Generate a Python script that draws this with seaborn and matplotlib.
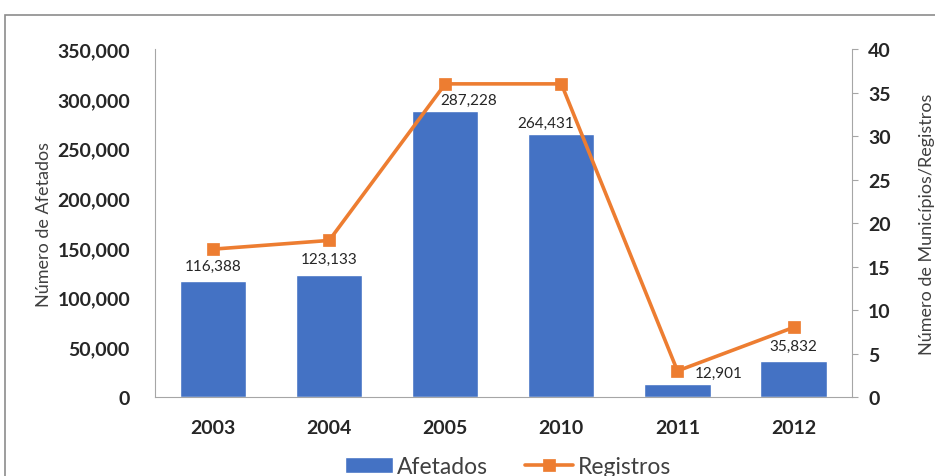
import matplotlib.pyplot as plt
import matplotlib.ticker as mticker
from matplotlib.patches import Rectangle
import seaborn as sns
import pandas as pd

sns.set_style('white')
plt.rcParams['font.family'] = ['Lato', 'DejaVu Sans']

anos = ['2003', '2004', '2005', '2010', '2011', '2012']
afetados = [116388, 123133, 287228, 264431, 12901, 35832]
registros = [17, 18, 36, 36, 3, 8]

df = pd.DataFrame({'ano': anos, 'afetados': afetados, 'registros': registros})

azul = '#4472C4'
laranja = '#ED7D31'
cinza = '#A6A6A6'

fig = plt.figure(figsize=(9.35, 4.77), dpi=100)
ax = fig.add_axes([0.1658, 0.1656, 0.745, 0.7294])

sns.barplot(data=df, x='ano', y='afetados', color=azul, saturation=1,
            width=0.57, ax=ax)
ax.set_ylim(0, 350000)
ax.set_yticks(range(0, 350001, 50000))
ax.yaxis.set_major_formatter(mticker.FuncFormatter(lambda v, p: '{:,.0f}'.format(v)))
ax.set_xlabel('')
ax.set_ylabel('Número de Afetados', fontsize=13, color='#404040', labelpad=4)
ax.tick_params(axis='y', labelsize=14, length=0, pad=18)
ax.tick_params(axis='x', labelsize=14, length=0, pad=16)
for lab in ax.get_xticklabels() + ax.get_yticklabels():
    lab.set_fontweight('bold')
for s in ['top', 'right']:
    ax.spines[s].set_visible(False)
for s in ['left', 'bottom']:
    ax.spines[s].set_color(cinza)

# rótulos dos valores (deslocamentos ajustados à mão, estilo Excel)
desloc = [(0, 6), (0, 6), (17, 3), (-11, 3), (30, 3), (0, 6)]
for i, v in enumerate(afetados):
    ax.annotate('{:,}'.format(v), (i, v), xytext=desloc[i], textcoords='offset points',
                ha='center', va='bottom', fontsize=11, color='#262626')

ax2 = ax.twinx()
sns.pointplot(data=df, x='ano', y='registros', color=laranja, markers='s',
              ax=ax2, linewidth=2.6, markersize=7.5)
ax2.set_ylim(0, 40)
ax2.set_yticks(range(0, 41, 5))
ax2.set_ylabel('Número de Municípios/Registros', fontsize=13, color='#404040', labelpad=20)
ax2.tick_params(axis='y', labelsize=14, length=4, color=cinza, pad=8)
for lab in ax2.get_yticklabels():
    lab.set_fontweight('bold')
for s in ['top', 'left', 'bottom']:
    ax2.spines[s].set_visible(False)
ax2.spines['right'].set_color(cinza)

h1 = ax.patches[:1]
h2 = ax2.lines[:1]
for a in (ax, ax2):
    if a.get_legend() is not None:
        a.get_legend().remove()
fig.legend(h1 + h2, ['Afetados', 'Registros'], loc='center', bbox_to_anchor=(0.543, 0.02),
           ncol=2, frameon=False, fontsize=16.5, handlelength=2.1, handletextpad=0.2,
           columnspacing=1.6, labelcolor='#404040')

fig.patches.append(Rectangle((5 / 935, -0.1), 1.2, 1 - 16 / 477 + 0.1,
                             transform=fig.transFigure, fill=False,
                             edgecolor='#8C8C8C', linewidth=1.2))

fig.savefig('out.png', dpi=100)
